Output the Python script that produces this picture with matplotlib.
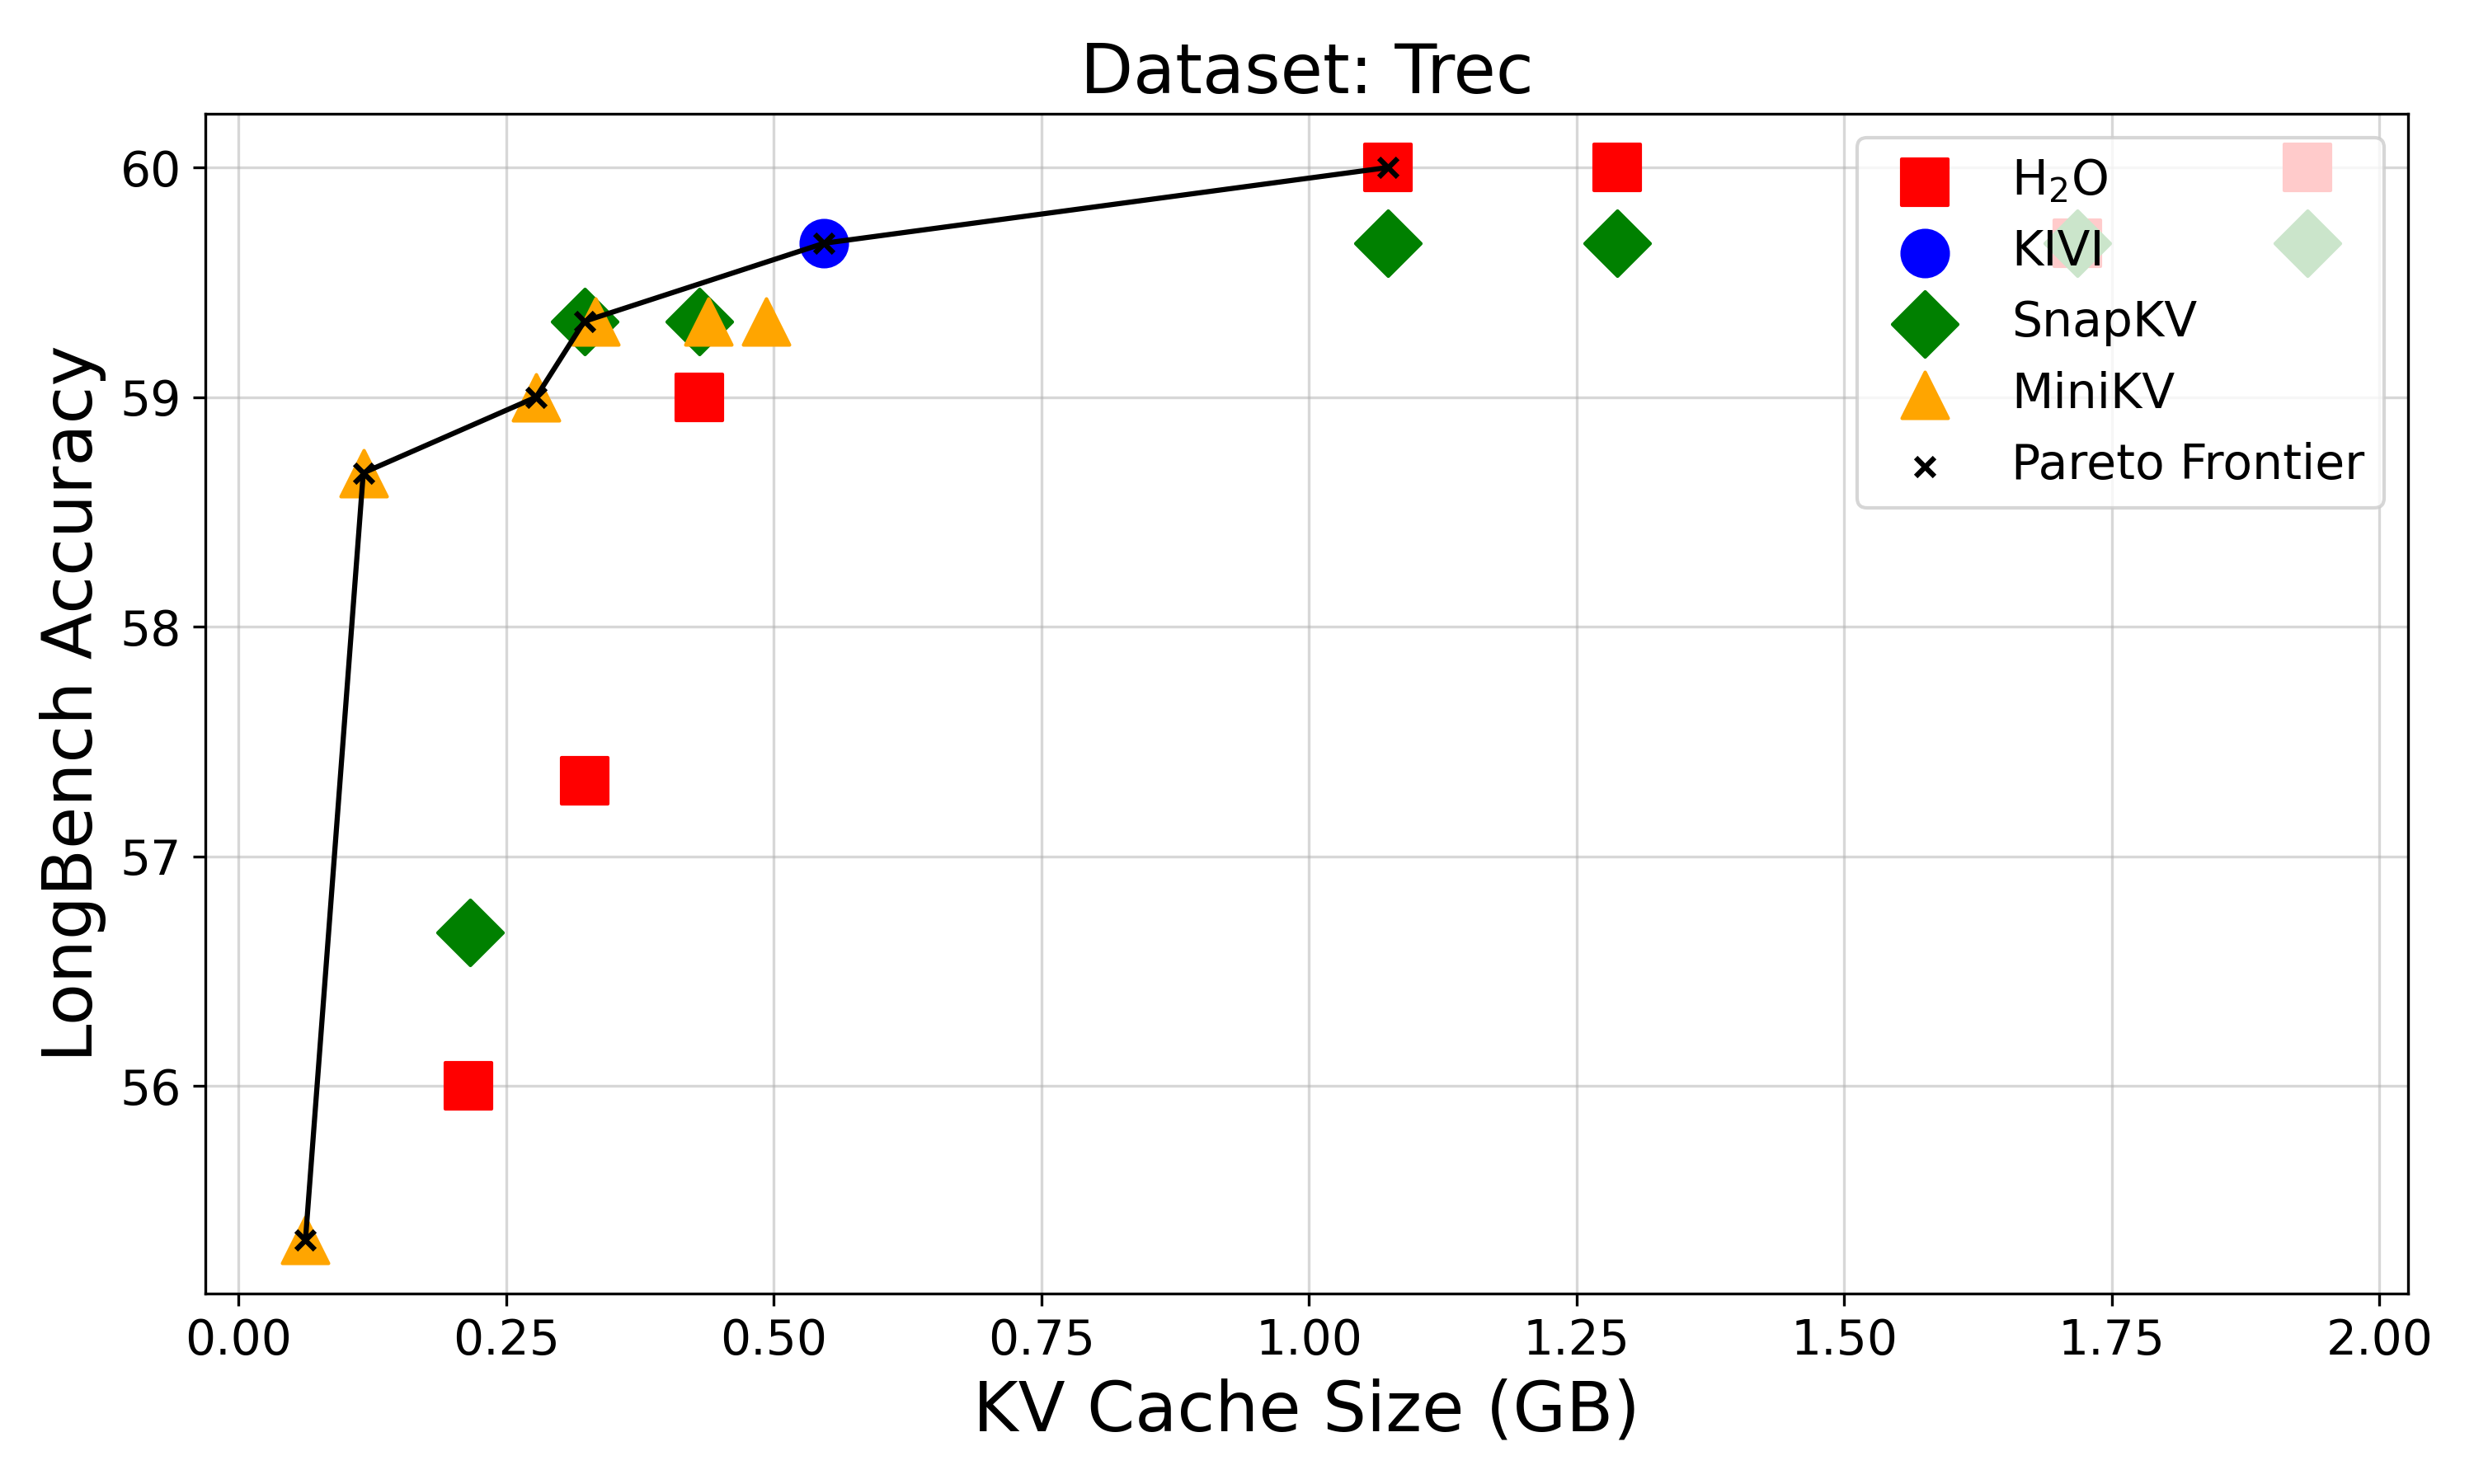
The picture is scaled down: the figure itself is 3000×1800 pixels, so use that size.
import numpy as np
import matplotlib

matplotlib.use("Agg")
import matplotlib.pyplot as plt

# ---------- data (KV cache GB, LongBench accuracy) ----------
h2o_size = [0.215, 0.323, 0.4306, 1.074, 1.288, 1.718, 1.933]
h2o_acc = [56.0, 57.33, 59.0, 60.0, 60.0, 59.67, 60.0]

kivi_size = [0.547]
kivi_acc = [59.67]

snapkv_size = [0.216, 0.323, 0.4306, 1.074, 1.288, 1.718, 1.933]
snapkv_acc = [56.67, 59.33, 59.33, 59.67, 59.67, 59.67, 59.67]

minikv_size = [0.0625, 0.1165, 0.278, 0.333, 0.439, 0.493]
minikv_acc = [55.33, 58.67, 59.0, 59.33, 59.33, 59.33]

pareto_size = [0.0625, 0.1165, 0.278, 0.323, 0.547, 1.074]
pareto_acc = [55.33, 58.67, 59.0, 59.33, 59.67, 60.0]

# ---------- plot ----------
fig, ax = plt.subplots(figsize=(10, 6), dpi=300)
fig.subplots_adjust(left=0.083, right=0.9733, bottom=0.1283, top=0.9233)

marker_size = 180
ax.scatter(h2o_size, h2o_acc, marker="s", s=marker_size, color="red", label="H$_2$O")
ax.scatter(kivi_size, kivi_acc, marker="o", s=marker_size, color="blue", label="KIVI")
ax.scatter(snapkv_size, snapkv_acc, marker="D", s=marker_size, color="green", label="SnapKV")
ax.scatter(minikv_size, minikv_acc, marker="^", s=marker_size, color="orange", label="MiniKV")
ax.plot(pareto_size, pareto_acc, color="black", linewidth=1.5)
ax.scatter(pareto_size, pareto_acc, marker="x", s=30, color="black", label="Pareto Frontier")

ax.set_title("Dataset: Trec", fontsize=20)
ax.set_xlabel("KV Cache Size (GB)", fontsize=20)
ax.set_ylabel("LongBench Accuracy", fontsize=20)
ax.tick_params(axis="both", labelsize=14)
ax.set_axisbelow(True)
ax.grid(True, alpha=0.5)
ax.legend(loc="upper right", fontsize=14)

fig.savefig("out.png", dpi=300)
